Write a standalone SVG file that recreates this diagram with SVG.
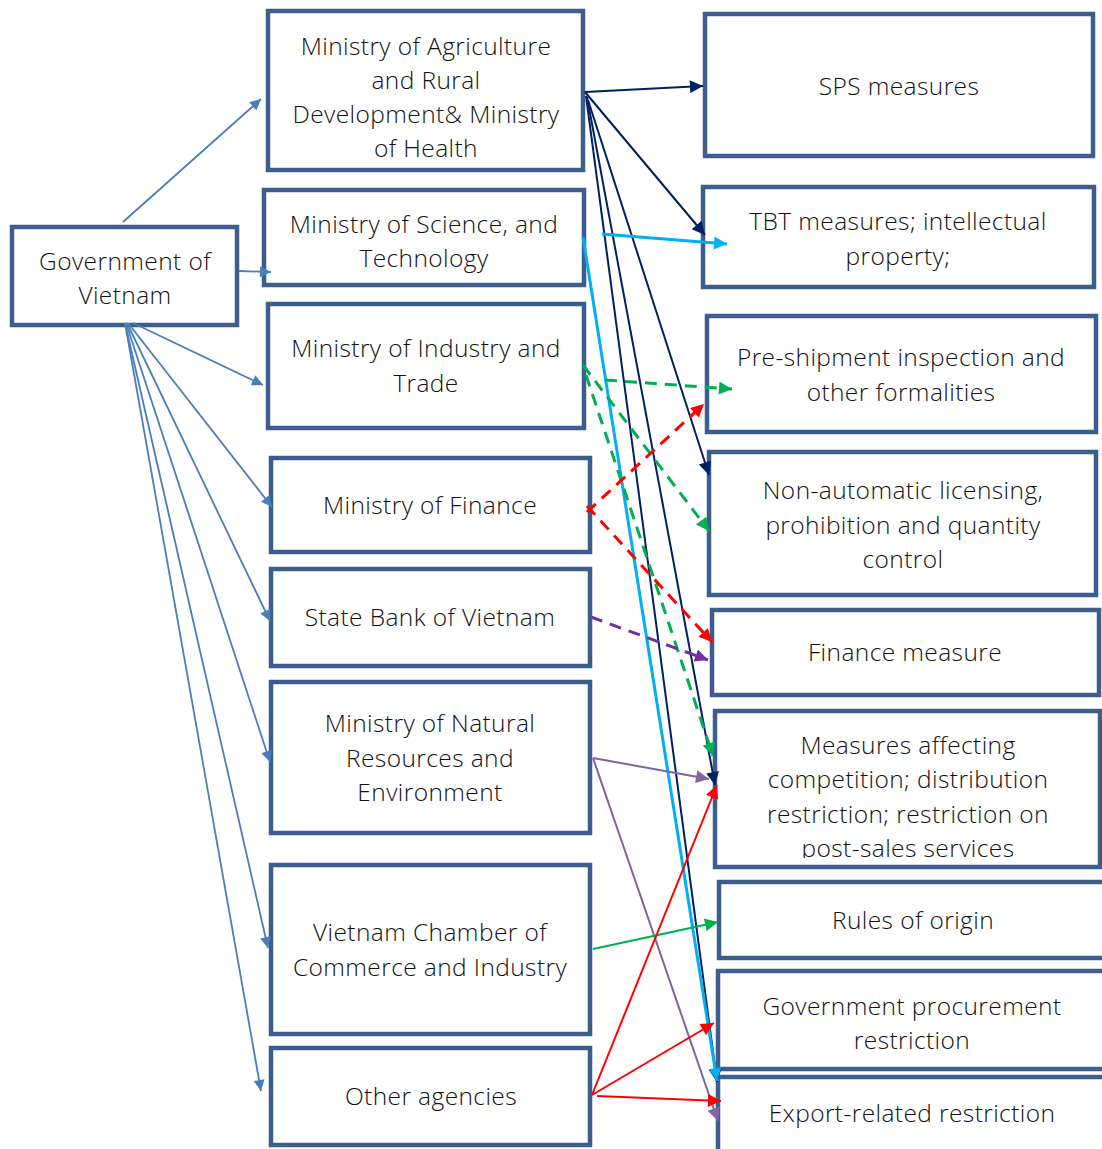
<svg xmlns="http://www.w3.org/2000/svg" width="1102" height="1149" viewBox="0 0 1102 1149">
<style>
.box{fill:#fff;stroke:#3B5E8D;stroke-width:4.5}
.t{font-family:"Open Sans","Noto Sans","DejaVu Sans",sans-serif;font-size:24.5px;font-weight:300;fill:#111;text-anchor:middle;letter-spacing:0.4px}
.gov{stroke:#4A7EBB;stroke-width:1.8;fill:none;marker-end:url(#mGov)}
.navy{stroke:#002060;stroke-width:2;fill:none;marker-end:url(#mNavy)}
.cyan{stroke:#00B0F0;stroke-width:3;fill:none;marker-end:url(#mCyan)}
.gd{stroke:#00B050;stroke-width:3;fill:none;stroke-dasharray:12 8;marker-end:url(#mGreen)}
.gs{stroke:#00B050;stroke-width:2;fill:none;marker-end:url(#mGreen)}
.rd{stroke:#FF0000;stroke-width:3;fill:none;stroke-dasharray:12 8;marker-end:url(#mRed)}
.rs{stroke:#FF0000;stroke-width:2;fill:none;marker-end:url(#mRed)}
.pd{stroke:#7030A0;stroke-width:3;fill:none;stroke-dasharray:12 8;marker-end:url(#mPurple)}
.ps{stroke:#8064A2;stroke-width:2;fill:none;marker-end:url(#mLav)}
</style>
<defs>
<marker id="mGov" viewBox="0 0 10 10" refX="10" refY="5" markerWidth="14" markerHeight="11" markerUnits="userSpaceOnUse" orient="auto"><path d="M0,0L10,5L0,10z" fill="#4A7EBB"/></marker>
<marker id="mNavy" viewBox="0 0 10 10" refX="10" refY="5" markerWidth="16" markerHeight="13" markerUnits="userSpaceOnUse" orient="auto"><path d="M0,0L10,5L0,10z" fill="#002060"/></marker>
<marker id="mCyan" viewBox="0 0 10 10" refX="10" refY="5" markerWidth="16" markerHeight="13" markerUnits="userSpaceOnUse" orient="auto"><path d="M0,0L10,5L0,10z" fill="#00B0F0"/></marker>
<marker id="mGreen" viewBox="0 0 10 10" refX="10" refY="5" markerWidth="16" markerHeight="13" markerUnits="userSpaceOnUse" orient="auto"><path d="M0,0L10,5L0,10z" fill="#00B050"/></marker>
<marker id="mRed" viewBox="0 0 10 10" refX="10" refY="5" markerWidth="16" markerHeight="13" markerUnits="userSpaceOnUse" orient="auto"><path d="M0,0L10,5L0,10z" fill="#FF0000"/></marker>
<marker id="mPurple" viewBox="0 0 10 10" refX="10" refY="5" markerWidth="16" markerHeight="13" markerUnits="userSpaceOnUse" orient="auto"><path d="M0,0L10,5L0,10z" fill="#7030A0"/></marker>
<marker id="mLav" viewBox="0 0 10 10" refX="10" refY="5" markerWidth="16" markerHeight="13" markerUnits="userSpaceOnUse" orient="auto"><path d="M0,0L10,5L0,10z" fill="#8064A2"/></marker>
<clipPath id="clipMac"><rect x="717" y="713" width="380" height="145"/></clipPath>
</defs>

<g id="nodes">
<g id="gov"><rect class="box" x="12" y="227" width="225" height="98"/>
<text class="t" x="125" y="270">Government of</text><text class="t" x="125" y="304">Vietnam</text></g>
<g id="mard"><rect class="box" x="268" y="11" width="315" height="159"/>
<text class="t" x="426" y="55">Ministry of Agriculture</text><text class="t" x="426" y="89">and Rural</text><text class="t" x="426" y="123">Development&amp; Ministry</text><text class="t" x="426" y="157">of Health</text></g>
<g id="most"><rect class="box" x="264" y="190" width="320" height="95"/>
<text class="t" x="424" y="233">Ministry of Science, and</text><text class="t" x="424" y="267">Technology</text></g>
<g id="moit"><rect class="box" x="268" y="304" width="316" height="124"/>
<text class="t" x="426" y="357">Ministry of Industry and</text><text class="t" x="426" y="392">Trade</text></g>
<g id="mof"><rect class="box" x="271" y="458" width="319" height="94"/>
<text class="t" x="430" y="514">Ministry of Finance</text></g>
<g id="sbv"><rect class="box" x="271" y="569" width="319" height="97"/>
<text class="t" x="430" y="626">State Bank of Vietnam</text></g>
<g id="monre"><rect class="box" x="271" y="682" width="319" height="151"/>
<text class="t" x="430" y="732">Ministry of Natural</text><text class="t" x="430" y="767">Resources and</text><text class="t" x="430" y="801">Environment</text></g>
<g id="vcci"><rect class="box" x="271" y="865" width="319" height="169"/>
<text class="t" x="430" y="941">Vietnam Chamber of</text><text class="t" x="430" y="976">Commerce and Industry</text></g>
<g id="other"><rect class="box" x="271" y="1048" width="319" height="97"/>
<text class="t" x="431" y="1105">Other agencies</text></g>

<g id="sps"><rect class="box" x="705" y="14" width="388" height="142"/>
<text class="t" x="899" y="95">SPS measures</text></g>
<g id="tbt"><rect class="box" x="703" y="187" width="391" height="100"/>
<text class="t" x="898" y="230">TBT measures; intellectual</text><text class="t" x="898" y="265">property;</text></g>
<g id="psi"><rect class="box" x="707" y="316" width="389" height="116"/>
<text class="t" x="901" y="366">Pre-shipment inspection and</text><text class="t" x="901" y="401">other formalities</text></g>
<g id="nal"><rect class="box" x="709" y="452" width="387" height="143"/>
<text class="t" x="903" y="499">Non-automatic licensing,</text><text class="t" x="903" y="534">prohibition and quantity</text><text class="t" x="903" y="568">control</text></g>
<g id="fm"><rect class="box" x="712" y="610" width="387" height="85"/>
<text class="t" x="905" y="661">Finance measure</text></g>
<g id="mac"><rect class="box" x="715" y="711" width="385" height="156"/>
<g clip-path="url(#clipMac)"><text class="t" x="908" y="754">Measures affecting</text><text class="t" x="908" y="788">competition; distribution</text><text class="t" x="908" y="823">restriction; restriction on</text><text class="t" x="908" y="857">post-sales services</text></g></g>
<g id="roo"><rect class="box" x="719" y="882" width="420" height="76"/>
<text class="t" x="913" y="929">Rules of origin</text></g>
<g id="gp"><rect class="box" x="718" y="971" width="420" height="98"/>
<text class="t" x="912" y="1015">Government procurement</text><text class="t" x="912" y="1049">restriction</text></g>
<g id="er"><rect class="box" x="718" y="1077" width="420" height="90"/>
<text class="t" x="912" y="1122">Export-related restriction</text></g>
</g>

<g id="connectors">
<line class="gov" x1="123" y1="222" x2="261" y2="99"/>
<line class="gov" x1="239" y1="271" x2="271" y2="272"/>
<line class="gov" x1="133" y1="323" x2="263" y2="385"/>
<line class="gov" x1="128" y1="323" x2="272" y2="507"/>
<line class="gov" x1="127" y1="323" x2="270" y2="621"/>
<line class="gov" x1="126" y1="323" x2="270" y2="762"/>
<line class="gov" x1="125" y1="323" x2="268" y2="948"/>
<line class="gov" x1="125" y1="323" x2="261" y2="1091"/>

<line class="navy" x1="585" y1="92" x2="703" y2="86"/>
<line class="navy" x1="585" y1="92" x2="705" y2="235"/>
<line class="navy" x1="588" y1="100" x2="709" y2="475"/>
<line class="navy" x1="587" y1="97" x2="715" y2="785"/>
<line class="navy" x1="586" y1="96" x2="717" y2="1082"/>

<line class="cyan" x1="602" y1="234" x2="727" y2="244"/>
<line class="cyan" x1="583" y1="237" x2="717" y2="1081"/>

<line class="gd" x1="605" y1="380" x2="732" y2="389"/>
<line class="gd" x1="583" y1="365" x2="709" y2="531"/>
<line class="gd" x1="586" y1="375" x2="713" y2="756"/>

<line class="rd" x1="587" y1="512" x2="704" y2="404"/>
<line class="rd" x1="587" y1="506" x2="712" y2="642"/>

<line class="pd" x1="591" y1="617" x2="708" y2="660"/>

<line class="ps" x1="593" y1="758" x2="709" y2="779"/>
<line class="ps" x1="593" y1="758" x2="718" y2="1121"/>

<line class="gs" x1="593" y1="949" x2="718" y2="922"/>

<line class="rs" x1="592" y1="1095" x2="717" y2="785"/>
<line class="rs" x1="592" y1="1095" x2="714" y2="1023"/>
<line class="rs" x1="597" y1="1096" x2="721" y2="1101"/>
</g>
</svg>
